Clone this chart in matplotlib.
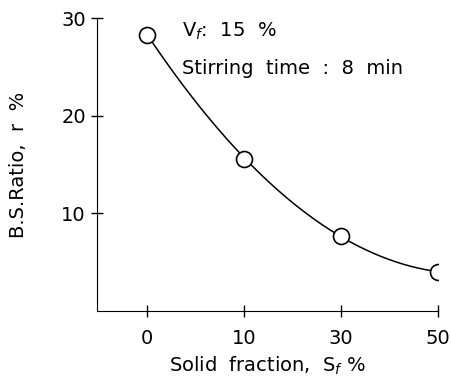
import numpy as np
import matplotlib
matplotlib.use("Agg")
import matplotlib.pyplot as plt

categories = ["0", "10", "30", "50"]
ratio = [28.3, 15.6, 7.7, 4.0]
y_ticks = [10, 20, 30]

plt.rcParams['font.family'] = ['DejaVu Sans']
FS = 14

fig = plt.figure(figsize=(4.52, 3.84), dpi=100)
ax = fig.add_axes([0.2146, 0.19, 0.969 - 0.2146, 0.953 - 0.19])

xpos = np.arange(len(categories))
coef = np.polyfit(xpos, ratio, 2)
xs = np.linspace(xpos[0], xpos[-1], 200)
ax.plot(xs, np.polyval(coef, xs), color='black', lw=1.1, zorder=2)
ax.plot(xpos, ratio, 'o', ms=11.5, mfc='white', mec='black', mew=1.2, zorder=3)

ax.set_xlim(-0.52, 3.0)
ax.set_ylim(0, 30)
ax.set_xticks(xpos)
ax.set_xticklabels(categories)
ax.set_yticks(y_ticks)
ax.spines['top'].set_visible(False)
ax.spines['right'].set_visible(False)
ax.tick_params(direction='inout', length=8, width=1.0, labelsize=FS, pad=4)
ax.tick_params(axis='x', pad=9)

ax.set_xlabel(r"Solid  fraction,  S$_f$ %", fontsize=FS, labelpad=5)
ax.set_ylabel("B.S.Ratio,  r  %", fontsize=FS, labelpad=24)

ax.text(0.36, 28.6, r"V$_f$:  15  %", fontsize=FS, ha='left', va='center')
ax.text(0.36, 24.8, "Stirring  time  :  8  min", fontsize=FS, ha='left', va='center')

fig.savefig("out.png", dpi=100)
